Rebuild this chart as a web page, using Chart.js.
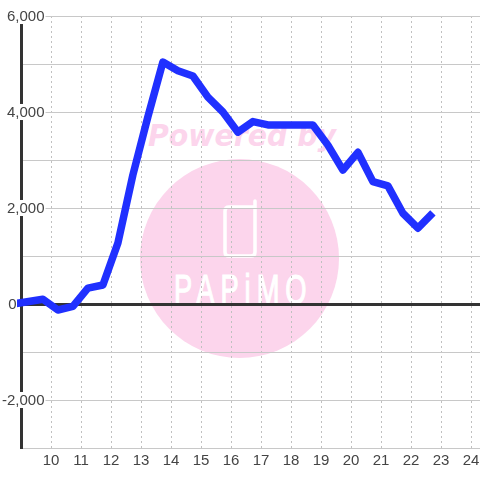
<!DOCTYPE html>
<html>
<head>
<meta charset="utf-8">
<script src="https://cdn.jsdelivr.net/npm/chart.js@4/dist/chart.umd.js"></script>
<style>
  html, body { margin: 0; padding: 0; background: #fff; }
  #wrap { position: relative; width: 480px; height: 480px; overflow: hidden; }
  #mark, #myChart { position: absolute; left: 0; top: 0; }
</style>
</head>
<body>
<div id="wrap">
  <!-- watermark sits behind the transparent canvas, the grid draws over it -->
  <svg id="mark" width="480" height="480" xmlns="http://www.w3.org/2000/svg">
    <text x="148" y="146" font-family="DejaVu Sans" font-weight="bold" font-style="italic" font-size="30" fill="#fcd5ec" textLength="188" lengthAdjust="spacingAndGlyphs">Powered by</text>
    <circle cx="239.5" cy="258.5" r="99.5" fill="#fcd5ec"/>
    <path d="M229 207 H254 M255 201 V252 Q255 256 251 256 H229 Q225 256 225 252 V211 Q225 207 229 207" fill="none" stroke="#fff" stroke-width="3.5" stroke-linecap="round"/>
    <text transform="translate(174,304) scale(0.65,1)" font-family="Liberation Sans" font-size="42" fill="#fff" stroke="#fff" stroke-width="1.2" textLength="204" lengthAdjust="spacing">PAPiMO</text>
  </svg>
  <canvas id="myChart" width="480" height="480"></canvas>
</div>
<script>
var hours = [8.73, 9.73, 10.23, 10.73, 11.23, 11.73, 12.23, 12.73, 13.23, 13.73, 14.23, 14.73, 15.23, 15.73, 16.23, 16.73, 17.23, 17.73, 18.23, 18.73, 19.23, 19.73, 20.23, 20.73, 21.23, 21.73, 22.23, 22.73];
var values = [0, 100, -125, -50, 330, 395, 1270, 2690, 3900, 5040, 4860, 4750, 4310, 4000, 3580, 3800, 3730, 3730, 3730, 3730, 3310, 2790, 3160, 2550, 2460, 1890, 1580, 1900];

var tickFont = { family: 'Liberation Sans', size: 15, lineHeight: 1.07 };
var tickColor = '#444444';
var gridColor = '#c8c8c8';

// y labels sit a pixel below their grid line in the reference
var nudgeYLabels = {
    id: 'nudgeYLabels',
    afterLayout: function(chart) {
        chart.scales.y.getLabelItems().forEach(function(item) {
            item.options.translation[1] += 1;
        });
    }
};

var ctx = document.getElementById('myChart').getContext('2d');
var chart = new Chart(ctx, {
    type: 'line',
    plugins: [nudgeYLabels],
    data: {
        datasets: [{
            data: hours.map((h, i) => ({ x: h, y: values[i] })),
            borderColor: '#2030ff',
            borderWidth: 7.5,
            borderCapStyle: 'butt',
            borderJoinStyle: 'round',
            pointRadius: 0,
            tension: 0,
            fill: false,
            clip: 4
        }]
    },
    options: {
        responsive: false,
        animation: false,
        layout: { padding: { top: 16, right: 0, bottom: 0, left: 0 } },
        plugins: { legend: { display: false }, title: { display: false } },
        scales: {
            x: {
                type: 'linear',
                min: 9,
                max: 24.3,
                afterFit: function(scale) {
                    scale.height = 32;
                    scale.paddingLeft = 0;
                    scale.paddingRight = 0;
                },
                border: { display: false, dash: [2, 3] },
                grid: {
                    color: c => c.tick && c.tick.value === 9 ? 'transparent' : '#c0c0c0',
                    lineWidth: 1,
                    drawTicks: false
                },
                ticks: {
                    stepSize: 1,
                    includeBounds: false,
                    autoSkip: false,
                    maxRotation: 0,
                    padding: 5,
                    font: tickFont,
                    color: tickColor,
                    callback: v => v === 9 ? '' : String(v)
                }
            },
            y: {
                type: 'linear',
                min: -3000,
                max: 6000,
                afterFit: function(scale) { scale.width = 21; },
                border: { display: true, color: '#333333', width: 3 },
                grid: {
                    color: c => c.tick && c.tick.value === 0 ? '#333333' : gridColor,
                    lineWidth: c => c.tick && c.tick.value === 0 ? 3 : 1,
                    drawTicks: false
                },
                ticks: {
                    stepSize: 1000,
                    autoSkip: false,
                    mirror: true,
                    crossAlign: 'far',
                    padding: -19,
                    font: tickFont,
                    color: tickColor,
                    showLabelBackdrop: true,
                    backdropColor: c => c.tick.value !== 0 && c.tick.value % 2000 === 0 ? '#ffffff' : 'transparent',
                    backdropPadding: { left: 2, right: 1, top: 1, bottom: -1 },
                    // the 0 sits left of the axis line, trailing spaces keep it there
                    callback: v => v === 0 ? '0\u00a0\u00a0\u00a0\u00a0\u00a0\u00a0\u2009' : (v % 2000 === 0 ? v.toLocaleString('en-US') : '')
                }
            }
        }
    }
});
</script>
</body>
</html>
